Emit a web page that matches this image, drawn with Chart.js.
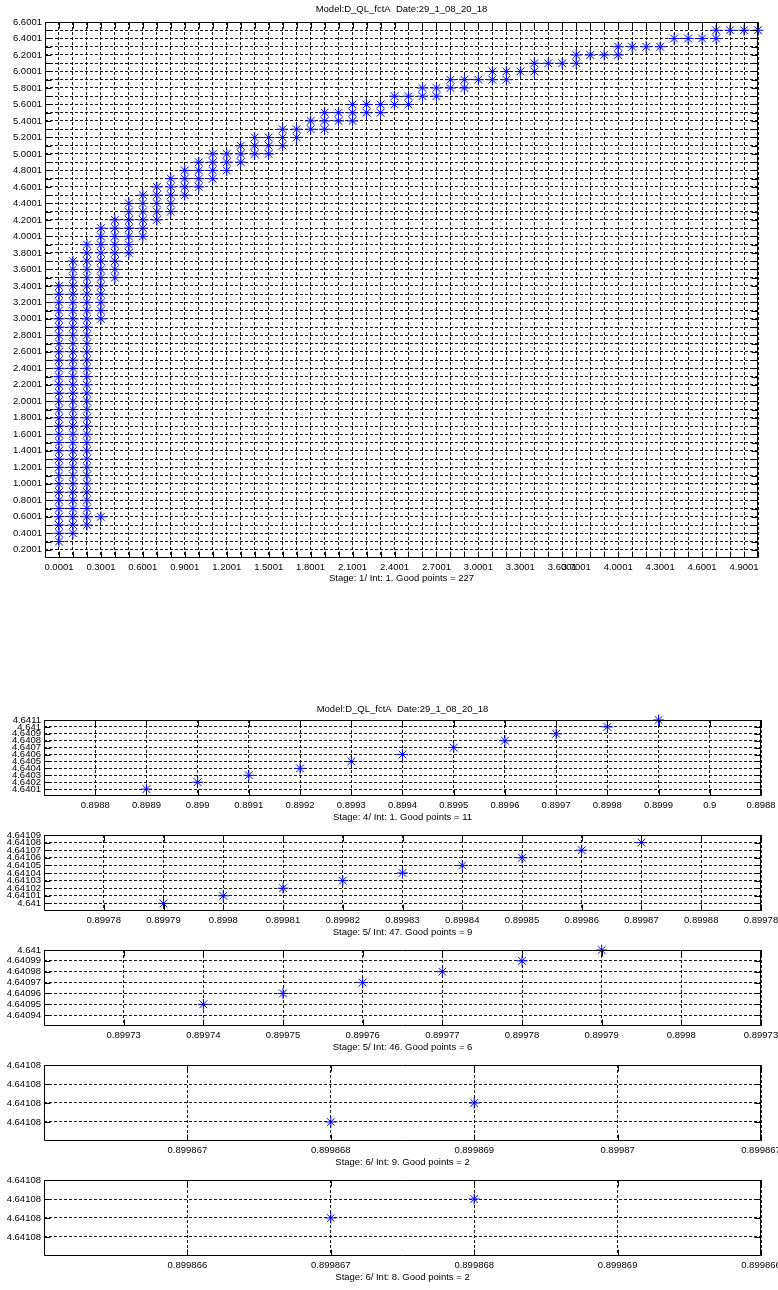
<!DOCTYPE html>
<html><head><meta charset="utf-8">
<script src="https://cdn.jsdelivr.net/npm/chart.js@4.4.1/dist/chart.umd.min.js"></script>
<style>
html,body{margin:0;padding:0;background:#fff;}
body{width:778px;height:1290px;position:relative;overflow:hidden;}
canvas{position:absolute;left:0;}
</style></head><body>
<canvas id="c1" width="778" height="592" style="top:0px"></canvas>
<canvas id="c2" width="778" height="130" style="top:696px"></canvas>
<canvas id="c3" width="778" height="114" style="top:827px"></canvas>
<canvas id="c4" width="778" height="114" style="top:942px"></canvas>
<canvas id="c5" width="778" height="114" style="top:1057px"></canvas>
<canvas id="c6" width="778" height="114" style="top:1172px"></canvas>
<script>
// ---------------- DATA ----------------
const titleText = 'Model:D_QL_fctA  Date:29_1_08_20_18';

// Stage 1 : one column of y values per x value
const topColX = [0.0001,0.1001,0.2001,0.3001,0.4001,0.5001,0.6001,0.7001,0.8001,0.9001,
  1.0001,1.1001,1.2001,1.3001,1.4001,1.5001,1.6001,1.7001,1.8001,1.9001,
  2.0001,2.1001,2.2001,2.3001,2.4001,2.5001,2.6001,2.7001,2.8001,2.9001,
  3.0001,3.1001,3.2001,3.3001,3.4001,3.5001,3.6001,3.7001,3.8001,3.9001,
  4.0001,4.1001,4.2001,4.3001,4.4001,4.5001,4.6001,4.7001,4.8001,4.9001,5.0001];
const topColY = [
  [0.3001,0.4001,0.5001,0.6001,0.7001,0.8001,0.9001,1.0001,1.1001,1.2001,1.3001,1.4001,1.5001,1.6001,1.7001,1.8001,1.9001,2.0001,2.1001,2.2001,2.3001,2.4001,2.5001,2.6001,2.7001,2.8001,2.9001,3.0001,3.1001,3.2001,3.3001,3.4001],
  [0.4001,0.5001,0.6001,0.7001,0.8001,0.9001,1.0001,1.1001,1.2001,1.3001,1.4001,1.5001,1.6001,1.7001,1.8001,1.9001,2.0001,2.1001,2.2001,2.3001,2.4001,2.5001,2.6001,2.7001,2.8001,2.9001,3.0001,3.1001,3.2001,3.3001,3.4001,3.5001,3.6001,3.7001],
  [0.5001,0.6001,0.7001,0.8001,0.9001,1.0001,1.1001,1.2001,1.3001,1.4001,1.5001,1.6001,1.7001,1.8001,1.9001,2.0001,2.1001,2.2001,2.3001,2.4001,2.5001,2.6001,2.7001,2.8001,2.9001,3.0001,3.1001,3.2001,3.3001,3.4001,3.5001,3.6001,3.7001,3.8001,3.9001],
  [0.6001,3.0001,3.1001,3.2001,3.3001,3.4001,3.5001,3.6001,3.7001,3.8001,3.9001,4.0001,4.1001],
  [3.5001,3.6001,3.7001,3.8001,3.9001,4.0001,4.1001,4.2001],
  [3.8001,3.9001,4.0001,4.1001,4.2001,4.3001,4.4001],
  [4.0001,4.1001,4.2001,4.3001,4.4001,4.5001],
  [4.2001,4.3001,4.4001,4.5001,4.6001],
  [4.3001,4.4001,4.5001,4.6001,4.7001],
  [4.5001,4.6001,4.7001,4.8001],
  [4.6001,4.7001,4.8001,4.9001],
  [4.7001,4.8001,4.9001,5.0001],
  [4.8001,4.9001,5.0001],
  [4.9001,5.0001,5.1001],
  [5.0001,5.1001,5.2001],
  [5.0001,5.1001,5.2001],
  [5.1001,5.2001,5.3001],
  [5.2001,5.3001],
  [5.3001,5.4001],
  [5.3001,5.4001,5.5001],
  [5.4001,5.5001],
  [5.4001,5.5001,5.6001],
  [5.5001,5.6001],
  [5.5001,5.6001],
  [5.6001,5.7001],
  [5.6001,5.7001],
  [5.7001,5.8001],
  [5.7001,5.8001],
  [5.8001,5.9001],
  [5.8001,5.9001],
  [5.9001],
  [5.9001,6.0001],
  [5.9001,6.0001],
  [6.0001],
  [6.0001,6.1001],
  [6.1001],
  [6.1001],
  [6.1001,6.2001],
  [6.2001],
  [6.2001],
  [6.2001,6.3001],
  [6.3001],
  [6.3001],
  [6.3001],
  [6.4001],
  [6.4001],
  [6.4001],
  [6.4001,6.5001],
  [6.5001],
  [6.5001],
  [6.5001]
];
const topXLabels = ['0.0001','0.3001','0.6001','0.9001','1.2001','1.5001','1.8001','2.1001','2.4001','2.7001','3.0001','3.3001','3.6001','3.7001','4.0001','4.3001','4.6001','4.9001'];
const topYLabels = ['0.2001','0.4001','0.6001','0.8001','1.0001','1.2001','1.4001','1.6001','1.8001','2.0001','2.2001','2.4001','2.6001','2.8001','3.0001','3.2001','3.4001','3.6001','3.8001','4.0001','4.2001','4.4001','4.6001','4.8001','5.0001','5.2001','5.4001','5.6001','5.8001','6.0001','6.2001','6.4001','6.6001'];

// Stage 4 / Int 1
const s2X = [0.8989,0.899,0.8991,0.8992,0.8993,0.8994,0.8995,0.8996,0.8997,0.8998,0.8999];
const s2Y = [4.6401,4.6402,4.6403,4.6404,4.6405,4.6406,4.6407,4.6408,4.6409,4.641,4.6411];
const s2XTicks = [0.8988,0.8989,0.899,0.8991,0.8992,0.8993,0.8994,0.8995,0.8996,0.8997,0.8998,0.8999,0.9,0.9001];
const s2XLabels = ['0.8988','0.8989','0.899','0.8991','0.8992','0.8993','0.8994','0.8995','0.8996','0.8997','0.8998','0.8999','0.9','0.8988'];
const s2YTicks = [4.6401,4.6402,4.6403,4.6404,4.6405,4.6406,4.6407,4.6408,4.6409,4.641,4.6411];
const s2YLabels = ['4.6401','4.6402','4.6403','4.6404','4.6405','4.6406','4.6407','4.6408','4.6409','4.641','4.6411'];

// Stage 5 / Int 47
const s3X = [0.89979,0.8998,0.89981,0.89982,0.89983,0.89984,0.89985,0.89986,0.89987];
const s3Y = [4.641,4.64101,4.64102,4.64103,4.64104,4.64105,4.64106,4.64107,4.64108];
const s3XTicks = [0.89978,0.89979,0.8998,0.89981,0.89982,0.89983,0.89984,0.89985,0.89986,0.89987,0.89988,0.89989];
const s3XLabels = ['0.89978','0.89979','0.8998','0.89981','0.89982','0.89983','0.89984','0.89985','0.89986','0.89987','0.89988','0.89978'];
const s3YTicks = [4.641,4.64101,4.64102,4.64103,4.64104,4.64105,4.64106,4.64107,4.64108,4.64109];
const s3YLabels = ['4.641','4.64101','4.64102','4.64103','4.64104','4.64105','4.64106','4.64107','4.64108','4.64109'];

// Stage 5 / Int 46
const s4X = [0.89974,0.89975,0.89976,0.89977,0.89978,0.89979];
const s4Y = [4.64095,4.64096,4.64097,4.64098,4.64099,4.641];
const s4XTicks = [0.89973,0.89974,0.89975,0.89976,0.89977,0.89978,0.89979,0.8998,0.89981];
const s4XLabels = ['0.89973','0.89974','0.89975','0.89976','0.89977','0.89978','0.89979','0.8998','0.89973'];
const s4YTicks = [4.64094,4.64095,4.64096,4.64097,4.64098,4.64099,4.641];
const s4YLabels = ['4.64094','4.64095','4.64096','4.64097','4.64098','4.64099','4.641'];

// Stage 6 / Int 9
const s5X = [0.899868,0.899869];
const s5Y = [4.641078,4.641079];
const s5XTicks = [0.899867,0.899868,0.899869,0.89987,0.899871];
const s5XLabels = ['0.899867','0.899868','0.899869','0.89987','0.899867'];
const s5YTicks = [4.641078,4.641079,4.64108,4.641081];
const s5YLabels = ['4.64108','4.64108','4.64108','4.64108'];

// Stage 6 / Int 8
const s6X = [0.899867,0.899868];
const s6Y = [4.641079,4.64108];
const s6XTicks = [0.899866,0.899867,0.899868,0.899869,0.89987];
const s6XLabels = ['0.899866','0.899867','0.899868','0.899869','0.899866'];
const s6YTicks = [4.641078,4.641079,4.64108,4.641081];
const s6YLabels = ['4.64108','4.64108','4.64108','4.64108'];

// ---------------- RENDERING ----------------
const FONT = "'Liberation Sans', Arial, Helvetica, sans-serif";
const FS = 9.5;
const BLUE = 'rgb(0,0,255)';
const GRID = 'rgba(0,0,0,0.9)';

function labelFn(vals, labels) {
  return v => {
    for (let i = 0; i < vals.length; i++) if (Math.abs(vals[i] - v) < 1e-10) return labels[i];
    return '';
  };
}
function zip(xs, ys) { return xs.map((x, i) => ({x: x, y: ys[i]})); }

const framePlugin = {
  id: 'frame',
  afterDatasetsDraw(chart, args, opts) {
    const ctx = chart.ctx;
    const a = chart.chartArea;
    const L = Math.round(a.left) + 0.5, R = Math.round(a.right) - 0.5;
    const T = Math.round(a.top) + 0.5, B = Math.round(a.bottom) - 0.5;
    const tl = opts.tick || 6;
    ctx.save();
    ctx.setLineDash([]);
    ctx.strokeStyle = '#000';
    ctx.lineWidth = 1;
    ctx.beginPath();
    ctx.rect(L, T, R - L, B - T);
    const xs = chart.scales.x, ys = chart.scales.y;
    xs.ticks.forEach(t => {
      const p = Math.round(xs.getPixelForValue(t.value)) + 0.5;
      ctx.moveTo(p, B); ctx.lineTo(p, B - tl);
      ctx.moveTo(p, T); ctx.lineTo(p, T + tl);
    });
    ys.ticks.forEach(t => {
      const p = Math.round(ys.getPixelForValue(t.value)) + 0.5;
      ctx.moveTo(L, p); ctx.lineTo(L + tl, p);
      ctx.moveTo(R, p); ctx.lineTo(R - tl, p);
    });
    ctx.stroke();
    ctx.restore();
  }
};

function makeChart(id, c) {
  const font = {family: FONT, size: FS, weight: 'normal', lineHeight: 1.2};
  return new Chart(document.getElementById(id), {
    type: 'scatter',
    data: {datasets: [{
      data: c.points, pointStyle: 'star', pointRadius: 5.5, pointHoverRadius: 5.5,
      borderColor: BLUE, backgroundColor: BLUE, pointBorderWidth: 1, clip: false, showLine: false
    }]},
    options: {
      responsive: false, animation: false, events: [],
      layout: {padding: {left: 0, right: c.padRight, top: c.padTop, bottom: 0}},
      plugins: {
        legend: {display: false}, tooltip: {enabled: false},
        title: c.title ? {display: true, text: c.title, fullSize: false, color: '#000', font: font, padding: c.titlePad} : {display: false},
        frame: {tick: 6}
      },
      scales: {
        x: {
          type: 'linear', position: 'bottom', min: c.xMin, max: c.xMax, bounds: 'data',
          afterBuildTicks: s => { s.ticks = c.xTicks.map(v => ({value: v})); },
          afterFit: s => { s.height = c.xAxisH; s.paddingLeft = 0; s.paddingRight = 0; s.paddingTop = 0; s.paddingBottom = 0; },
          ticks: {autoSkip: false, maxRotation: 0, minRotation: 0, padding: 4, color: '#000', font: font, callback: c.xLabel},
          grid: {drawTicks: false, color: GRID, lineWidth: 1},
          border: {display: false, dash: [3, 2]},
          title: {display: true, text: c.xTitle, color: '#000', font: font, padding: {top: 0, bottom: c.xTitlePb}}
        },
        y: {
          type: 'linear', position: 'left', min: c.yMin, max: c.yMax, bounds: 'data',
          afterBuildTicks: s => { s.ticks = c.yTicks.map(v => ({value: v})); },
          afterFit: s => { s.width = c.yAxisW; s.paddingLeft = 0; s.paddingRight = 0; s.paddingTop = 0; s.paddingBottom = 0; },
          ticks: {autoSkip: false, padding: 3, color: '#000', font: font, callback: c.yLabel},
          grid: {drawTicks: false, color: GRID, lineWidth: 1},
          border: {display: false, dash: [3, 2]}
        }
      }
    },
    plugins: [framePlugin]
  });
}

// Stage 1 chart
const topPoints = [];
topColX.forEach((x, i) => topColY[i].forEach(y => topPoints.push({x: x, y: y})));
const topXGrid = [], topYGrid = [];
for (let k = 0; k <= 50; k++) topXGrid.push(+(0.0001 + 0.1 * k).toFixed(4));
for (let k = 2; k <= 66; k++) topYGrid.push(+(0.0001 + 0.1 * k).toFixed(4));

makeChart('c1', {
  points: topPoints, xMin: -0.0999, xMax: 5.0001, yMin: 0.1001, yMax: 6.6001,
  xTicks: topXGrid, yTicks: topYGrid,
  xLabel: labelFn(topXLabels.map(Number), topXLabels),
  yLabel: labelFn(topYLabels.map(Number), topYLabels),
  title: titleText, titlePad: {top: 4, bottom: 6.6},
  xTitle: 'Stage: 1/ Int: 1. Good points = 227',
  padTop: 0, padRight: 20, yAxisW: 45, xAxisH: 34, xTitlePb: 8.3
});

const subs = [
  {id: 'c2', X: s2X, Y: s2Y, xt: s2XTicks, xl: s2XLabels, yt: s2YTicks, yl: s2YLabels, xMin: 0.8987, xMax: 0.9001, yMin: 4.64, yMax: 4.6411, t: 'Stage: 4/ Int: 1. Good points = 11', title: titleText},
  {id: 'c3', X: s3X, Y: s3Y, xt: s3XTicks, xl: s3XLabels, yt: s3YTicks, yl: s3YLabels, xMin: 0.89977, xMax: 0.89989, yMin: 4.64099, yMax: 4.64109, t: 'Stage: 5/ Int: 47. Good points = 9'},
  {id: 'c4', X: s4X, Y: s4Y, xt: s4XTicks, xl: s4XLabels, yt: s4YTicks, yl: s4YLabels, xMin: 0.89972, xMax: 0.89981, yMin: 4.64093, yMax: 4.641, t: 'Stage: 5/ Int: 46. Good points = 6'},
  {id: 'c5', X: s5X, Y: s5Y, xt: s5XTicks, xl: s5XLabels, yt: s5YTicks, yl: s5YLabels, xMin: 0.899866, xMax: 0.899871, yMin: 4.641077, yMax: 4.641081, t: 'Stage: 6/ Int: 9. Good points = 2'},
  {id: 'c6', X: s6X, Y: s6Y, xt: s6XTicks, xl: s6XLabels, yt: s6YTicks, yl: s6YLabels, xMin: 0.899865, xMax: 0.89987, yMin: 4.641077, yMax: 4.641081, t: 'Stage: 6/ Int: 8. Good points = 2'}
];
subs.forEach(s => {
  makeChart(s.id, {
    points: zip(s.X, s.Y), xMin: s.xMin, xMax: s.xMax, yMin: s.yMin, yMax: s.yMax,
    xTicks: s.xt, yTicks: s.yt,
    xLabel: (v, i) => s.xl[i], yLabel: (v, i) => s.yl[i],
    title: s.title || null, titlePad: {top: 7.3, bottom: 5.3},
    xTitle: s.t, padTop: s.title ? 0 : 8, padRight: 17, yAxisW: 44, xAxisH: 30, xTitlePb: 3.3
  });
});
</script>
</body></html>
